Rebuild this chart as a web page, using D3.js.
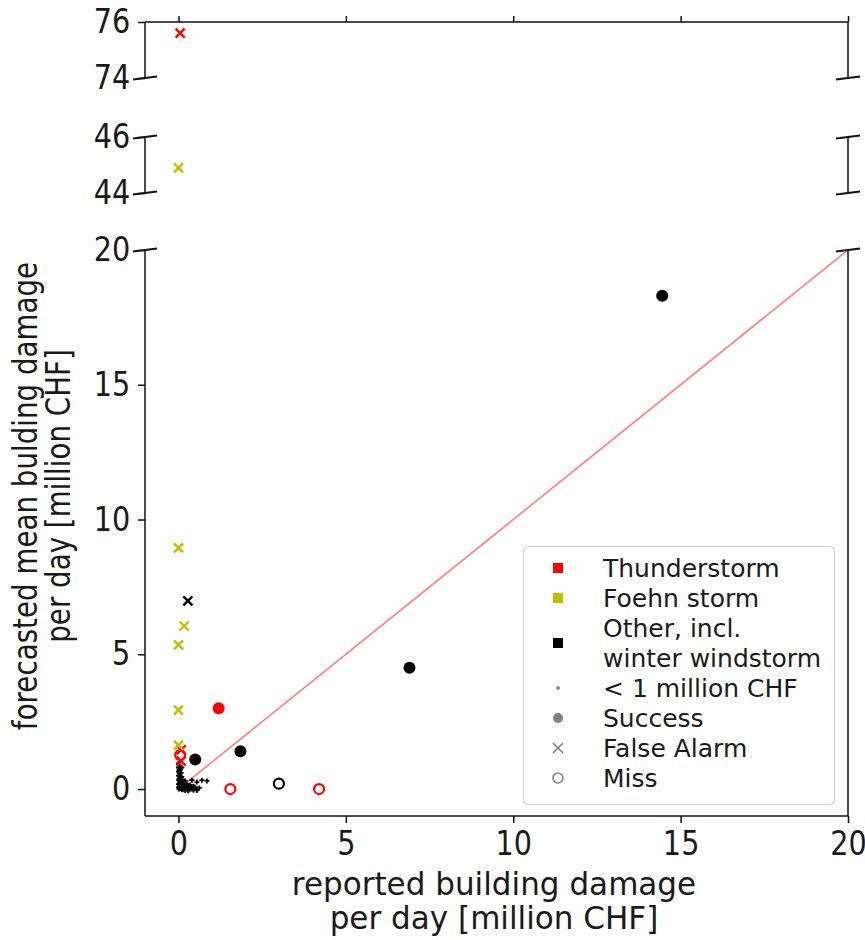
<!DOCTYPE html>
<html>
<head>
<meta charset="utf-8">
<script src="https://cdn.jsdelivr.net/npm/d3@7"></script>
<style>
  body { margin: 0; background: #fff; }
  svg { display: block; }
  text { font-family: "DejaVu Sans", sans-serif; fill: #1a1a1a; }
</style>
</head>
<body>
<div id="chart"></div>
<script>
// values (million CHF); each point is [reported, forecast, category]
const successes = [
    [14.45, 18.3, "other"], [6.9, 4.5, "other"], [1.85, 1.4, "other"],
    [0.5, 1.1, "other"], [1.2, 3.0, "thunder"]
];
const falseAlarms = [
    [0.05, 75.6, "thunder"], [0.08, 1.45, "thunder"], [0.08, 1.04, "thunder"],
    [0, 44.9, "foehn"], [0, 8.95, "foehn"], [0.17, 6.05, "foehn"], [0, 5.35, "foehn"],
    [0, 2.93, "foehn"], [0, 1.63, "foehn"], [0.28, 6.98, "other"]
];
const misses = [
    [1.55, 0, "thunder"], [4.2, 0, "thunder"], [0.05, 1.26, "thunder"], [3.0, 0.2, "other"]
];
// events below 1 million CHF (small markers near the origin)
const smallEvents = [
    [0, 0.95], [0.02, 0.88], [0, 0.8], [0.02, 0.72], [0, 0.65], [0.03, 0.58], [0, 0.5],
    [0.04, 0.44], [0.02, 0.38], [0, 0.32], [0.06, 0.27], [0.1, 0.22], [0, 0.18], [0.05, 0.12],
    [0.12, 0.1], [0, 0.06], [0.08, 0.03], [0.15, 0], [0.22, 0.02], [0.3, 0.05], [0.02, 0],
    [0.1, -0.02], [0.28, -0.04], [0.4, 0], [0.35, 0.15], [0.45, 0.1], [0.4, 0.33], [0.55, 0.26],
    [0.7, 0.33], [0.85, 0.3], [0.5, 0.07], [0.62, 0.04], [0.2, 0.3], [0.25, 0.18], [0.18, 0.1],
    [0.08, 0.6], [0.1, 0.45], [0.12, 0.35], [0.15, 0.28], [0.05, 0.22], [0.2, 0.12], [0.3, 0.12],
    [0.08, 0.15], [0.15, 0.05], [0.25, 0.08], [0.35, 0.02], [0.05, 0.04], [0.12, -0.03],
    [0.2, -0.05], [0.3, -0.06], [0.45, -0.04], [0.55, -0.05], [0.05, 0.7], [0.1, 0.8]
];
const identityLine = [[0, 0], [20, 20]];

const xTicks = [0, 5, 10, 15, 20];
const yTicksBottom = [0, 5, 10, 15, 20];
const yTicksMid = [44, 46];
const yTicksTop = [74, 76];

const legendItems = [
    { kind: "square", color: "#ff0000", label: ["Thunderstorm"] },
    { kind: "square", color: "#bfbf00", label: ["Foehn storm"] },
    { kind: "square", color: "#000000", label: ["Other, incl.", "winter windstorm"] },
    { kind: "plus", color: "#555555", label: ["< 1 million CHF"] },
    { kind: "dot", color: "#808080", label: ["Success"] },
    { kind: "cross", color: "#808080", label: ["False Alarm"] },
    { kind: "ring", color: "#808080", label: ["Miss"] }
];

const catColor = { thunder: "#ff0000", foehn: "#bfbf00", other: "#000000" };

const W = 865, H = 940;
const left = 145, right = 848;

const svg = d3.select("#chart").append("svg")
    .attr("width", W).attr("height", H);

const x = d3.scaleLinear().domain([-1, 20]).range([left, right]);

// three stacked panels of the broken y axis
const panels = [
    { name: "top", y: d3.scaleLinear().domain([74, 76]).range([78, 22]), ticks: yTicksTop },
    { name: "mid", y: d3.scaleLinear().domain([44, 46]).range([193, 137]), ticks: yTicksMid },
    { name: "bot", y: d3.scaleLinear().domain([-1, 20]).range([816, 250]), ticks: yTicksBottom }
];
const panelFor = (v) => v >= 60 ? panels[0] : (v >= 30 ? panels[1] : panels[2]);

const TICK_FS = 33, TICK_SX = 0.87;
const INK = "#111";

panels.forEach(p => {
    const [y0, y1] = p.y.range(); // bottom, top
    p.g = svg.append("g");
    svg.append("clipPath").attr("id", "clip-" + p.name)
        .append("rect").attr("x", left).attr("y", y1).attr("width", right - left).attr("height", y0 - y1);

    const ax = p.g.append("g").attr("transform", `translate(${left},0)`)
        .call(d3.axisLeft(p.y).tickValues(p.ticks).tickSize(7).tickPadding(10).tickFormat(d3.format("d")));
    ax.select(".domain").remove();
    ax.selectAll(".tick line").attr("stroke", INK).attr("stroke-width", 1.5);
    ax.selectAll("text").attr("font-size", TICK_FS).attr("font-family", "DejaVu Sans")
        .attr("fill", INK).attr("transform", `scale(${TICK_SX},1)`);

    // left and right spines
    [left, right].forEach(sx => {
        p.g.append("line").attr("x1", sx).attr("x2", sx).attr("y1", y0).attr("y2", y1)
            .attr("stroke", INK).attr("stroke-width", 1.5);
    });
});

// top spine with upward ticks, bottom spine with labelled x axis
const topAx = svg.append("g").attr("transform", `translate(0,${panels[0].y.range()[1]})`)
    .call(d3.axisTop(x).tickValues(xTicks).tickSize(6).tickFormat(""));
topAx.select(".domain").attr("d", `M${left},0H${right}`).attr("stroke", INK).attr("stroke-width", 1.5);
topAx.selectAll(".tick line").attr("stroke", INK).attr("stroke-width", 1.5);

const botAx = svg.append("g").attr("transform", `translate(0,${panels[2].y.range()[0]})`)
    .call(d3.axisBottom(x).tickValues(xTicks).tickSize(7).tickPadding(9).tickFormat(d3.format("d")));
botAx.select(".domain").attr("d", `M${left},0H${right}`).attr("stroke", INK).attr("stroke-width", 1.5);
botAx.selectAll(".tick line").attr("stroke", INK).attr("stroke-width", 1.5);
botAx.selectAll("text").attr("font-size", TICK_FS).attr("font-family", "DejaVu Sans")
    .attr("fill", INK).attr("transform", `scale(${TICK_SX},1)`);

// break marks at the cut edges
const breaks = [panels[0].y.range()[0], panels[1].y.range()[1], panels[1].y.range()[0], panels[2].y.range()[1]];
breaks.forEach(by => {
    [left, right].forEach(sx => {
        svg.append("line").attr("x1", sx - 12).attr("y1", by + 1.5).attr("x2", sx + 12).attr("y2", by - 1.5)
            .attr("stroke", INK).attr("stroke-width", 2);
    });
});

// 1:1 line in the bottom panel
const bot = panels[2];
svg.append("g").attr("clip-path", "url(#clip-bot)")
    .append("path")
    .attr("d", d3.line().x(d => x(d[0])).y(d => bot.y(d[1]))(identityLine))
    .attr("fill", "none").attr("stroke", "#ff0000").attr("stroke-opacity", 0.5).attr("stroke-width", 1.6);

const marks = svg.append("g");

// small events
marks.selectAll(".small").data(smallEvents).enter().append("path")
    .attr("class", "small")
    .attr("transform", d => `translate(${x(d[0])},${bot.y(d[1])})`)
    .attr("d", "M-2.5,0H2.5M0,-2.5V2.5")
    .attr("stroke", "#000").attr("stroke-width", 1.8);

// misses: open circles
marks.selectAll(".miss").data(misses).enter().append("circle")
    .attr("class", "miss")
    .attr("cx", d => x(d[0])).attr("cy", d => panelFor(d[1]).y(d[1]))
    .attr("r", 5).attr("fill", "none")
    .attr("stroke", d => catColor[d[2]]).attr("stroke-width", 2.2);

// false alarms: crosses
marks.selectAll(".fa").data(falseAlarms).enter().append("path")
    .attr("class", "fa")
    .attr("transform", d => `translate(${x(d[0])},${panelFor(d[1]).y(d[1])})`)
    .attr("d", "M-4.5,-4.5L4.5,4.5M-4.5,4.5L4.5,-4.5")
    .attr("stroke", d => catColor[d[2]]).attr("stroke-width", 2.4);

// successes: filled circles
marks.selectAll(".succ").data(successes).enter().append("circle")
    .attr("class", "succ")
    .attr("cx", d => x(d[0])).attr("cy", d => panelFor(d[1]).y(d[1]))
    .attr("r", 6).attr("fill", d => catColor[d[2]]);

// axis labels
const xl = svg.append("text").attr("text-anchor", "middle").attr("font-size", 32)
    .attr("transform", "translate(494,0) scale(0.97,1)");
xl.append("tspan").attr("x", 0).attr("y", 895).text("reported building damage");
xl.append("tspan").attr("x", 0).attr("y", 929).text("per day [million CHF]");

const yl = svg.append("text").attr("text-anchor", "middle").attr("font-size", 33)
    .attr("transform", "translate(0,496) rotate(-90) scale(0.84,1)");
yl.append("tspan").attr("x", 0).attr("y", 37).text("forecasted mean bulding damage");
yl.append("tspan").attr("x", 0).attr("y", 70).text("per day [million CHF]");

// legend
const lg = svg.append("g");
lg.append("rect").attr("x", 523.5).attr("y", 546.5).attr("width", 311).attr("height", 258)
    .attr("rx", 5).attr("fill", "#fff").attr("fill-opacity", 0.8)
    .attr("stroke", "#d0d0d0").attr("stroke-width", 1.2);

let rowY = 577;
legendItems.forEach(it => {
    const n = it.label.length;
    const cy = rowY - 9 + (n - 1) * 15;
    const mx = 558;
    if (it.kind === "square") {
        lg.append("rect").attr("x", mx - 5).attr("y", cy - 5).attr("width", 10).attr("height", 10).attr("fill", it.color);
    } else if (it.kind === "plus") {
        lg.append("path").attr("transform", `translate(${mx},${cy})`).attr("d", "M-2,0H2M0,-2V2")
            .attr("stroke", it.color).attr("stroke-width", 1.2);
    } else if (it.kind === "dot") {
        lg.append("circle").attr("cx", mx).attr("cy", cy).attr("r", 5).attr("fill", it.color);
    } else if (it.kind === "cross") {
        lg.append("path").attr("transform", `translate(${mx},${cy})`).attr("d", "M-5,-5L5,5M-5,5L5,-5")
            .attr("stroke", it.color).attr("stroke-width", 1.6);
    } else {
        lg.append("circle").attr("cx", mx).attr("cy", cy).attr("r", 5).attr("fill", "none")
            .attr("stroke", it.color).attr("stroke-width", 1.6);
    }
    it.label.forEach((t, i) => {
        lg.append("text").attr("x", 603).attr("y", rowY + i * 30).attr("font-size", 25).text(t);
    });
    rowY += 30 * n;
});
</script>
</body>
</html>
